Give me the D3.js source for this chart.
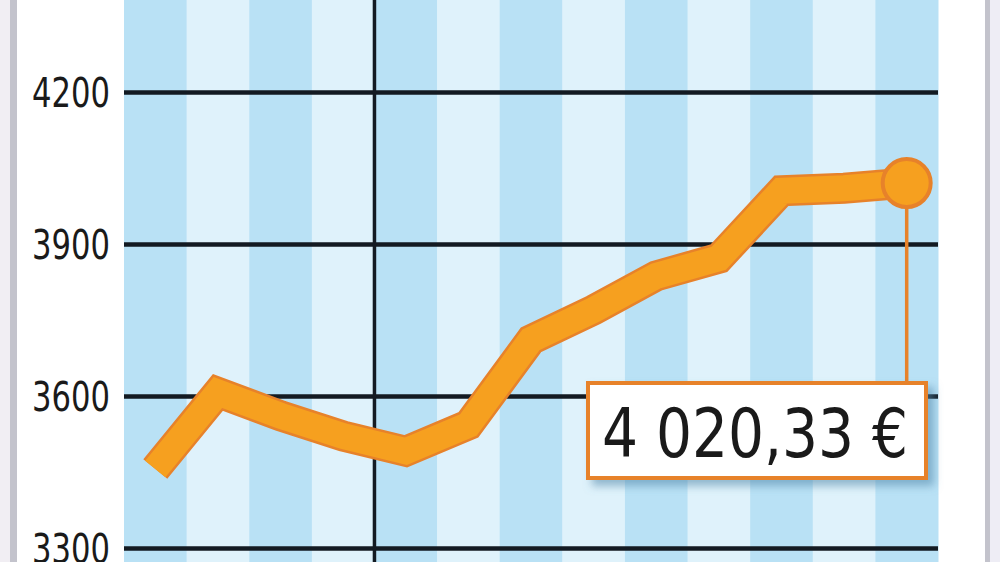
<!DOCTYPE html>
<html>
<head>
<meta charset="utf-8">
<script src="https://cdn.jsdelivr.net/npm/d3@7"></script>
<style>
  html, body { margin: 0; padding: 0; background: #ffffff; }
  svg { display: block; }
</style>
</head>
<body>
<svg id="chart" width="1000" height="562"></svg>
<script>
// ---- data ----
const categories = ["S1","S2","S3","S4","S5","S6","S7","S8","S9","S10","S11","S12","S13"];
const values = [3456, 3607, 3561, 3521, 3491, 3543, 3711, 3770, 3837, 3872, 4005, 4010, 4020.33];
const yTicks = [3300, 3600, 3900, 4200];
const dividerCategory = "S5";
const lastLabel = "4 020,33 €";

// ---- layout ----
const W = 1000, H = 562;
const plotLeft = 124, plotRight = 938;

const svg = d3.select("#chart");

const defs = svg.append("defs");
const f = defs.append("filter").attr("id", "shadow")
  .attr("x", "-20%").attr("y", "-30%").attr("width", "150%").attr("height", "180%");
f.append("feDropShadow").attr("dx", 6).attr("dy", 6).attr("stdDeviation", 4)
  .attr("flood-color", "#4f86a8").attr("flood-opacity", 0.55);

// side frame
svg.append("rect").attr("x", 0).attr("y", 0).attr("width", 10).attr("height", H).attr("fill", "#f1eef3");
svg.append("rect").attr("x", 10).attr("y", 0).attr("width", 7).attr("height", H).attr("fill", "#c3c3cc");
svg.append("rect").attr("x", 985).attr("y", 0).attr("width", 5).attr("height", H).attr("fill", "#c3c3cc");
svg.append("rect").attr("x", 990).attr("y", 0).attr("width", 10).attr("height", H).attr("fill", "#eeedf5");

const x = d3.scaleBand().domain(categories).range([plotLeft, plotRight]).padding(0);
const y = d3.scaleLinear().domain([3272.4, 4381.6]).range([H, 0]);

// stripes
svg.append("g").selectAll("rect").data(categories).join("rect")
  .attr("x", d => x(d))
  .attr("y", 0)
  .attr("width", x.bandwidth() + 0.5)
  .attr("height", H)
  .attr("fill", (d, i) => i % 2 === 0 ? "#b9e1f5" : "#dff2fb");

// horizontal gridlines + labels via axis
const axis = d3.axisLeft(y).tickValues(yTicks).tickSize(-(plotRight - plotLeft)).tickFormat(d3.format("d"));
const gAxis = svg.append("g").attr("transform", `translate(${plotLeft},0)`).call(axis);
gAxis.select(".domain").remove();
gAxis.selectAll(".tick line").attr("stroke", "#131a22").attr("stroke-width", 4.5);
gAxis.selectAll(".tick text")
  .attr("x", -14)
  .attr("dy", null)
  .attr("y", 14)
  .attr("fill", "#1a1a1a")
  .attr("font-family", "'DejaVu Sans Condensed', 'DejaVu Sans', sans-serif")
  .attr("font-size", 41)
  .attr("textLength", 78)
  .attr("lengthAdjust", "spacingAndGlyphs")
  .attr("text-anchor", "end");

// vertical divider
svg.append("line")
  .attr("x1", x(dividerCategory)).attr("x2", x(dividerCategory))
  .attr("y1", 0).attr("y2", H)
  .attr("stroke", "#131a22").attr("stroke-width", 3.5);

// data line
const line = d3.line().x((d, i) => x(categories[i]) + x.bandwidth() / 2).y(d => y(d));
svg.append("path").datum(values)
  .attr("d", line).attr("fill", "none")
  .attr("stroke", "#e7822a").attr("stroke-width", 31)
  .attr("stroke-linejoin", "miter").attr("stroke-linecap", "butt");
svg.append("path").datum(values)
  .attr("d", line).attr("fill", "none")
  .attr("stroke", "#f6a01f").attr("stroke-width", 26)
  .attr("stroke-linejoin", "miter").attr("stroke-linecap", "butt");

// last point
const lastIdx = values.length - 1;
const cx = x(categories[lastIdx]) + x.bandwidth() / 2;
const cy = y(values[lastIdx]);

// box geometry
const boxX = 588, boxY = 383, boxW = 338, boxH = 95;

// leader line
svg.append("line")
  .attr("x1", cx).attr("x2", cx).attr("y1", cy).attr("y2", boxY)
  .attr("stroke", "#e7822a").attr("stroke-width", 3.5);

svg.append("circle").attr("cx", cx).attr("cy", cy).attr("r", 24)
  .attr("fill", "#f6a01f").attr("stroke", "#e7822a").attr("stroke-width", 4);

// label box
svg.append("rect")
  .attr("x", boxX).attr("y", boxY).attr("width", boxW).attr("height", boxH)
  .attr("fill", "#ffffff").attr("stroke", "#e7822a").attr("stroke-width", 4)
  .attr("filter", "url(#shadow)");
svg.append("text")
  .attr("x", 602).attr("y", 457)
  .attr("fill", "#1a1a1a")
  .attr("font-family", "'DejaVu Sans Condensed', 'DejaVu Sans', sans-serif")
  .attr("font-size", 68)
  .attr("textLength", 306)
  .attr("lengthAdjust", "spacingAndGlyphs")
  .text(lastLabel);
</script>
</body>
</html>
